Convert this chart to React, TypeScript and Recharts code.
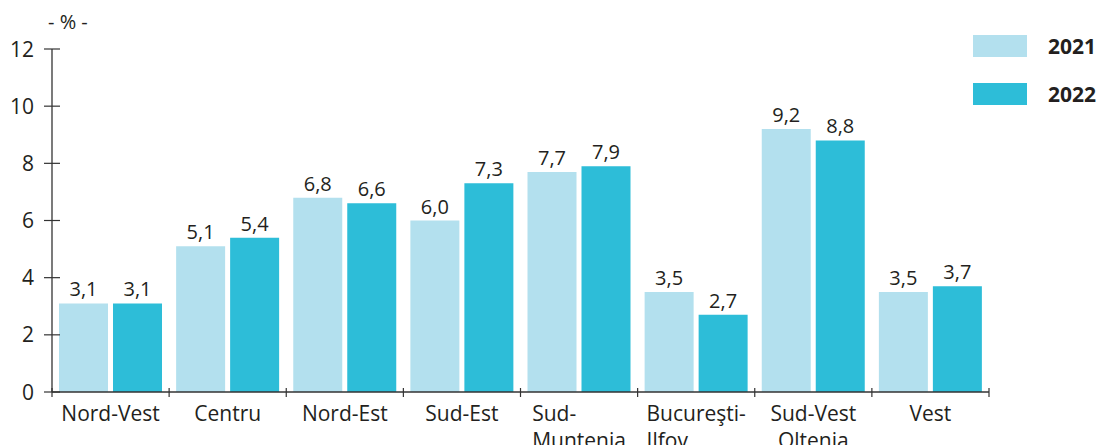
import { BarChart, Bar, XAxis, YAxis, LabelList } from 'recharts'

const regions = ['Nord-Vest', 'Centru', 'Nord-Est', 'Sud-Est', 'Sud-\nMuntenia', 'Bucureşti-\nIlfov', 'Sud-Vest\nOltenia', 'Vest']
const values2021 = [3.1, 5.1, 6.8, 6.0, 7.7, 3.5, 9.2, 3.5]
const values2022 = [3.1, 5.4, 6.6, 7.3, 7.9, 2.7, 8.8, 3.7]
const yTicks = [0, 2, 4, 6, 8, 10, 12]
const series = [
  { key: 'y2021', name: '2021', color: '#b3e0ee' },
  { key: 'y2022', name: '2022', color: '#2dbdd8' },
]
const centeredLabels = ['Sud-Vest\nOltenia']

const data = regions.map((region, i) => ({ region, y2021: values2021[i], y2022: values2022[i] }))

const FONT = '"Open Sans", sans-serif'
const INK = '#231f20'

const fmt = (v: any) => Number(v).toFixed(1).replace('.', ',')

function YTick({ x, y, payload }: any) {
  return (
    <g>
      <line x1={x - 8} x2={x + 8} y1={y} y2={y} stroke="#333" strokeWidth={1.2} />
      <text x={x - 18} y={y} dy="0.36em" textAnchor="end" fill={INK} fontSize={21} fontFamily={FONT}>
        {payload.value}
      </text>
    </g>
  )
}

function XTick({ x, y, payload, index }: any) {
  const half = payload.offset ?? 58.5
  const lines = String(payload.value).split('\n')
  const centered = centeredLabels.includes(payload.value)
  return (
    <g>
      <line x1={x - half} x2={x - half} y1={y - 4} y2={y + 5} stroke="#333" strokeWidth={1.2} />
      {index === regions.length - 1 && (
        <line x1={x + half} x2={x + half} y1={y - 4} y2={y + 5} stroke="#333" strokeWidth={1.2} />
      )}
      <foreignObject x={x - 70} y={y + 8} width={140} height={70}>
        <div style={{ textAlign: 'center', fontFamily: FONT, fontSize: 21, lineHeight: '27px', color: INK }}>
          <div style={{ display: 'inline-block', textAlign: centered ? 'center' : 'left' }}>
            {lines.map((l, i) => (
              <div key={i}>{l}</div>
            ))}
          </div>
        </div>
      </foreignObject>
    </g>
  )
}

export default function App() {
  return (
    <div style={{ position: 'absolute', left: 0, top: 0, width: 1102, height: 445, background: '#fff', overflow: 'hidden' }}>
      <div style={{ position: 'absolute', left: 48, top: 8, fontFamily: FONT, fontSize: 20, color: INK, lineHeight: '28px' }}>
        - % -
      </div>

      {/* legend */}
      <div style={{ position: 'absolute', left: 973, top: 34 }}>
        {series.map((s) => (
          <div key={s.key} style={{ display: 'flex', alignItems: 'center', height: 24, marginBottom: 24 }}>
            <div style={{ width: 54, height: 22, background: s.color }} />
            <span style={{ marginLeft: 21, fontFamily: FONT, fontWeight: 700, fontSize: 21, color: INK }}>{s.name}</span>
          </div>
        ))}
      </div>

      <BarChart
        width={1102}
        height={445}
        data={data}
        margin={{ top: 49, right: 113, left: 0, bottom: 0 }}
        barCategoryGap={7}
        barGap={5}
      >
        <YAxis
          width={52}
          domain={[0, 12]}
          ticks={yTicks}
          interval={0}
          tickSize={0}
          tickMargin={0}
          tickLine={false}
          axisLine={{ stroke: '#333', strokeWidth: 1.3 }}
          tick={<YTick />}
        />
        <XAxis
          dataKey="region"
          height={53}
          interval={0}
          tickSize={0}
          tickMargin={0}
          tickLine={false}
          axisLine={{ stroke: '#333', strokeWidth: 1.3 }}
          tick={<XTick />}
        />
        {series.map((s) => (
          <Bar key={s.key} dataKey={s.key} name={s.name} fill={s.color} isAnimationActive={false}>
            <LabelList dataKey={s.key} position="top" offset={7} formatter={fmt} fill={INK} fontSize={20} fontFamily={FONT} />
          </Bar>
        ))}
      </BarChart>
    </div>
  )
}
